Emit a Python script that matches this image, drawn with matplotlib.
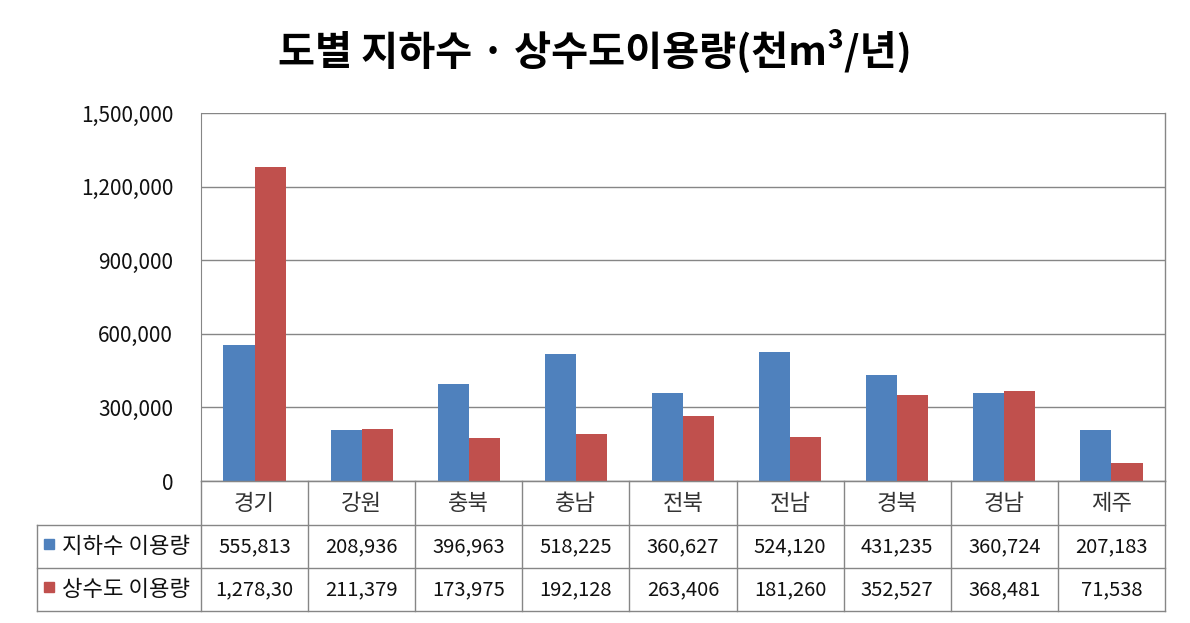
import matplotlib
matplotlib.use("Agg")
import matplotlib.pyplot as plt
from matplotlib.patches import Rectangle
import numpy as np

plt.rcParams['font.family'] = ['Noto Sans CJK KR', 'DejaVu Sans']

categories = ["경기", "강원", "충북", "충남", "전북", "전남", "경북", "경남", "제주"]
series_names = ["지하수 이용량", "상수도 이용량"]
groundwater = [555813, 208936, 396963, 518225, 360627, 524120, 431235, 360724, 207183]
tapwater = [1278300, 211379, 173975, 192128, 263406, 181260, 352527, 368481, 71538]
yticks = [0, 300000, 600000, 900000, 1200000, 1500000]
title = "도별 지하수 · 상수도이용량(천m³/년)"

colors = ["#4F81BD", "#C0504D"]
grid_c = "#868686"

W, H = 1190, 623
fig = plt.figure(figsize=(W / 100, H / 100), dpi=100)

def fx(px):
    return px / W

def fy(py):
    return 1 - py / H

x0, x1 = 201, 1165
ytop, ybase = 113, 481
ax = fig.add_axes([fx(x0), fy(ybase), fx(x1) - fx(x0), fy(ytop) - fy(ybase)])
x = np.arange(len(categories))
bw = 0.29
ax.bar(x - bw / 2, groundwater, width=bw, color=colors[0], zorder=3)
ax.bar(x + bw / 2, tapwater, width=bw, color=colors[1], zorder=3)
ax.set_xlim(-0.5, len(categories) - 0.5)
ax.set_ylim(0, 1500000)
ax.set_yticks(yticks)
ax.set_yticklabels([f"{v:,}" for v in yticks], fontsize=15)
ax.yaxis.grid(True, color=grid_c, linewidth=1, zorder=0)
ax.set_xticks([])
ax.tick_params(axis='y', length=0, pad=20, labelcolor="#111111")
for s in ["top", "right"]:
    ax.spines[s].set_visible(False)
ax.spines["left"].set_color(grid_c)
ax.spines["bottom"].set_color(grid_c)

# outer plot frame right edge
fig.add_artist(plt.Line2D([fx(x1), fx(x1)], [fy(ytop), fy(ybase)], color=grid_c, lw=1))

# data table
rows = [481, 525, 568, 611]
tx0 = 37
colw = (x1 - x0) / len(categories)
lines = []
lines.append(([x0, x1], [rows[0], rows[0]]))
for r in rows[1:]:
    lines.append(([tx0, x1], [r, r]))
for i in range(len(categories) + 1):
    xx = x0 + i * colw
    lines.append(([xx, xx], [rows[0], rows[3]]))
lines.append(([tx0, tx0], [rows[1], rows[3]]))
for xs, ys in lines:
    fig.add_artist(plt.Line2D([fx(v) for v in xs], [fy(v) for v in ys], color=grid_c, lw=1))

for i, c in enumerate(categories):
    cx = x0 + (i + 0.5) * colw
    fig.text(fx(cx), fy((rows[0] + rows[1]) / 2), c, ha="center", va="center",
             fontsize=16, color="#333333")
for r, (vals, name) in enumerate(zip([groundwater, tapwater], series_names)):
    cy = (rows[r + 1] + rows[r + 2]) / 2
    for i, v in enumerate(vals):
        cx = x0 + (i + 0.5) * colw
        s = f"{v:,}"[:8]
        fig.text(fx(cx), fy(cy), s, ha="center", va="center", fontsize=14.5, color="#111111")
    fig.add_artist(Rectangle((fx(44), fy(cy + 2)), fx(10), fy(0) - fy(10), color=colors[r],
                             transform=fig.transFigure))
    fig.text(fx(62), fy(cy), name, ha="left", va="center", fontsize=16, color="#111111")

fig.text(fx(595), fy(52), title, ha="center", va="center", fontsize=29, fontweight="bold")

fig.savefig("out.png", dpi=100, facecolor="white")
